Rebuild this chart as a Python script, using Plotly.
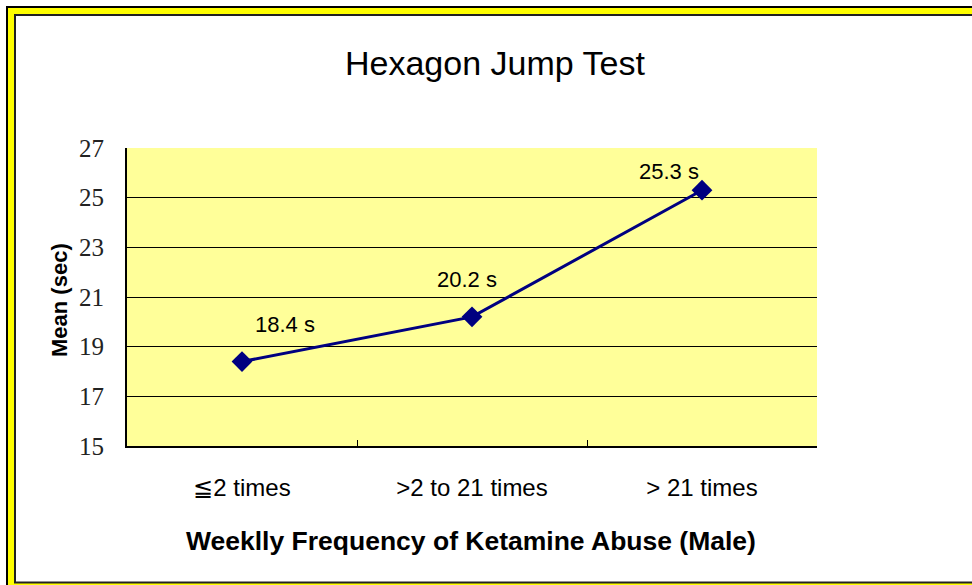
import plotly.graph_objects as go

categories = ["≦2 times", ">2 to 21 times", "> 21 times"]
means = [18.4, 20.2, 25.3]
labels = ["18.4 s", "20.2 s", "25.3 s"]
label_shift_x = [43, -5, -33]
label_shift_y = [37, 37, 19]
y_ticks = [15, 17, 19, 21, 23, 25, 27]

W, H = 972, 585
L, R, T, B = 127, 817, 148, 446

def px(x):
    return (x - L) / (R - L)

def py(y):
    return (B - y) / (B - T)

SANS = "Liberation Sans, Arial"

fig = go.Figure()
fig.add_trace(go.Scatter(
    x=categories, y=means, mode="lines+markers",
    line=dict(color="#000080", width=3),
    marker=dict(symbol="diamond", size=16, color="#000080"),
    showlegend=False, hoverinfo="skip",
))

for c, v, t, dx, dy in zip(categories, means, labels, label_shift_x, label_shift_y):
    fig.add_annotation(x=c, y=v, text=t, showarrow=False, xshift=dx, yshift=dy,
                       xanchor="center", yanchor="middle",
                       font=dict(family=SANS, size=22, color="black"))

shapes = [
    dict(type="rect", xref="paper", yref="paper", x0=px(7), x1=px(1010), y0=py(7), y1=py(620),
         line=dict(color="black", width=2), fillcolor="#FFFF00", layer="below"),
    dict(type="rect", xref="paper", yref="paper", x0=px(15), x1=px(1010), y0=py(15), y1=py(582.5),
         line=dict(color="#222222", width=2), fillcolor="white", layer="below"),
    dict(type="rect", xref="paper", yref="paper", x0=0, x1=1, y0=0, y1=1,
         line=dict(width=0), fillcolor="#FFFF99", layer="below"),
]

fig.add_annotation(xref="paper", yref="paper", x=px(495), y=py(63), text="Hexagon Jump Test",
                   xanchor="center", yanchor="middle", showarrow=False,
                   font=dict(family=SANS, size=34, color="black"))
fig.add_annotation(xref="paper", yref="paper", x=px(471), y=py(541),
                   text="<b>Weeklly Frequency of Ketamine Abuse (Male)</b>",
                   xanchor="center", yanchor="middle", showarrow=False,
                   font=dict(family=SANS, size=26.5, color="black"))
fig.add_annotation(xref="paper", yref="paper", x=px(59), y=py(300), text="<b>Mean (sec)</b>",
                   textangle=-90, xanchor="center", yanchor="middle", showarrow=False,
                   font=dict(family=SANS, size=22, color="black"))

fig.update_layout(
    width=W, height=H,
    margin=dict(l=L, r=W - R, t=T, b=H - B, autoexpand=False),
    paper_bgcolor="white", plot_bgcolor="rgba(0,0,0,0)",
    shapes=shapes,
)
fig.update_xaxes(
    type="category", categoryorder="array", categoryarray=categories,
    range=[-0.5, 2.5], tickson="boundaries", ticks="inside", ticklen=6,
    tickcolor="black", tickwidth=1, showline=True, linecolor="black", linewidth=2,
    showgrid=False, zeroline=False, ticklabelstandoff=19,
    tickfont=dict(family=SANS, size=24, color="black"),
)
fig.update_yaxes(
    range=[15, 27], tickvals=y_ticks, ticktext=[str(v) for v in y_ticks],
    showgrid=True, gridcolor="black", gridwidth=1, showline=True, linecolor="black",
    linewidth=2, zeroline=False, ticks="inside", ticklen=5, tickcolor="black",
    ticklabelstandoff=16,
    tickfont=dict(family="Liberation Serif, Times New Roman", size=25, color="#222222"),
)

fig.write_html("out.html", config={"displayModeBar": False},
               post_script="document.body.style.margin='0';document.body.style.overflow='hidden';")
